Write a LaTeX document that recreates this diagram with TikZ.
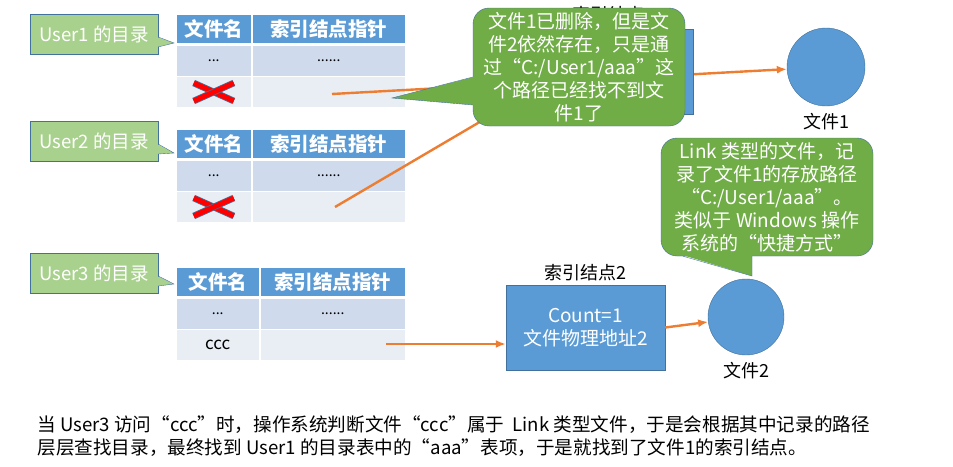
\documentclass[tikz,border=0pt]{standalone}
\usepackage{fontspec}
\setmainfont{Noto Sans CJK SC}
\usetikzlibrary{arrows.meta,positioning,calc}
\definecolor{hdblue}{RGB}{91,155,213}
\definecolor{edgeblue}{RGB}{65,113,156}
\definecolor{bandA}{RGB}{207,218,236}
\definecolor{bandB}{RGB}{233,237,244}
\definecolor{lightgreen}{RGB}{169,209,142}
\definecolor{darkgreen}{RGB}{112,173,71}
\definecolor{linkorange}{RGB}{237,125,49}
\definecolor{crossred}{RGB}{255,0,0}
\pgfdeclarelayer{front}
\pgfsetlayers{main,front}
\tikzset{
  headcell/.style={fill=hdblue,draw=white,line width=1.5pt,anchor=north west,
    minimum height=30,inner sep=0pt,text=white,
    font=\fontsize{19.5}{22}\selectfont\bfseries},
  rowcell/.style={draw=white,line width=1.5pt,anchor=north west,
    minimum height=31.5,inner sep=0pt,font=\fontsize{14}{16}\selectfont},
  usernote/.style={draw=edgeblue,fill=lightgreen,minimum width=128,
    minimum height=40,inner sep=0pt,text=white,
    font=\fontsize{18.5}{22}\selectfont},
  note/.style={draw=edgeblue,fill=darkgreen,rounded corners=16pt,
    align=center,text=white,minimum width=212,minimum height=118,
    inner sep=0pt,font=\fontsize{19}{23}\selectfont},
  inode/.style={draw=edgeblue,fill=hdblue,minimum width=159,
    minimum height=85,align=center,text=white,
    font=\fontsize{19}{23}\selectfont},
  fileshape/.style={circle,draw=edgeblue,fill=hdblue,inner sep=0pt},
  link/.style={draw=linkorange,line width=2.4pt,
    -{Latex[length=10pt,width=8pt]}},
  crossout/.style={draw=edgeblue,line width=0.8pt,double=crossred,
    double distance=5pt},
}

\begin{document}
\begin{tikzpicture}[x=1pt,y=-1pt,
    every node/.append style={font=\fontsize{18}{23}\selectfont}]
  \useasboundingbox[fill=white] (0,0) rectangle (953,466);

  % directory tables
  \foreach \t/\y/\w/\last in {1/13/76/{},2/128/76/\ldots,3/266/84/ccc} {
    \pgfmathsetmacro\wb{230-\w}
    \node[headcell,minimum width=\w] (t\t h1) at (175,\y) {文件名};
    \node[headcell,minimum width=\wb] (t\t h2) at ({175+\w},\y) {索引结点指针};
    \node[rowcell,fill=bandA,minimum width=\w] (t\t a1) at (175,{\y+31}) {...};
    \node[rowcell,fill=bandA,minimum width=\wb] (t\t a2) at ({175+\w},{\y+31}) {......};
    \node[rowcell,fill=bandB,minimum width=\w,font=\fontsize{17}{18}\selectfont]
      (t\t b1) at (175,{\y+62.5}) {\last};
    \node[rowcell,fill=bandB,minimum width=\wb] (t\t b2) at ({175+\w},{\y+62.5}) {};
  }
  \foreach \t in {1,2} {
    \draw[crossout] ($(t\t b1.center)+(-20,-9)$) -- ($(t\t b1.center)+(20,9)$);
    \draw[crossout] ($(t\t b1.center)+(-20,9)$) -- ($(t\t b1.center)+(20,-9)$);
  }

  % user callouts
  \foreach \n/\y/\ty in {1/34/43,2/141/153,3/273/284} {
    \node[usernote] (u\n) at (94,\y) {User\n\ 的目录};
    \coordinate (u\n tip) at (174,\ty);
    \fill[lightgreen] ($(u\n.east)+(-1,3)$) -- (u\n tip)
      -- ($(u\n.east)+(-1,13)$) -- cycle;
    \draw[edgeblue] ($(u\n.east)+(0,3)$) -- (u\n tip) -- ($(u\n.east)+(0,13)$);
  }

  % inode 1, hidden behind the note
  \begin{pgfonlayer}{front}
    \node[inode] (inode1) at (613.5,71.5) {};
    \node[above=2pt of inode1] (inode1lbl) {索引结点1};
    \node[note] (note1) at (579,67) {文件1已删除，但是文\\件2依然存在，只是通\\
      过“C:/User1/aaa”这\\个路径已经找不到文\\件1了};
    \coordinate (note1tip) at (392,98);
    \fill[darkgreen] ($(note1.west)+(1,10)$) -- (note1tip)
      -- ($(note1.west)+(1,38)$) -- cycle;
    \draw[edgeblue] ($(note1.west)+(0,10)$) -- (note1tip)
      -- ($(note1.west)+(0,38)$);
  \end{pgfonlayer}

  % files and inode 2
  \node[fileshape,minimum size=78] (file1) at (826,67) {};
  \node[below=4pt of file1] (file1lbl) {文件1};
  \node[fileshape,minimum size=76] (file2) at (746,317) {};
  \node[below=4pt of file2] (file2lbl) {文件2};
  \node[inode] (inode2) at (585.5,327.5) {Count=1\\文件物理地址2};
  \node[above=0pt of inode2] (inode2lbl) {索引结点2};

  % links
  \coordinate (s1) at (332,94);
  \coordinate (s2) at (335,207);
  \coordinate (s3) at (386,344);
  \draw[link] (s1) -- (file1);
  \draw[link] (s2) -- ($(inode1.south west)+(0,-24)$);
  \draw[link] (s3) -- (s3 -| inode2.west);
  \draw[link] (inode2.east) -- (file2);

  % link note
  \node[note] (note2) at (767,197) {Link 类型的文件，记\\录了文件1的存放路径\\
    “C:/User1/aaa”。\\类似于 Windows 操作\\系统的“快捷方式”};
  \coordinate (note2tip) at (752,276);
  \fill[darkgreen] ($(note2.south)+(-84,-1)$) -- (note2tip)
    -- ($(note2.south)+(-15,-1)$) -- cycle;
  \draw[edgeblue] ($(note2.south)+(-84,0)$) -- (note2tip)
    -- ($(note2.south)+(-15,0)$);

  % explanation
  \node[anchor=west,font=\fontsize{18.6}{22}\selectfont] (expl1) at (34,425)
    {当 User3 访问“ccc”时，操作系统判断文件“ccc”属于\ \ Link 类型文件，于是会根据其中记录的路径};
  \node[anchor=west,font=\fontsize{18.6}{22}\selectfont] (expl2) at (34,448)
    {层层查找目录，最终找到 User1 的目录表中的“aaa”表项，于是就找到了文件1的索引结点。};
\end{tikzpicture}
\end{document}
